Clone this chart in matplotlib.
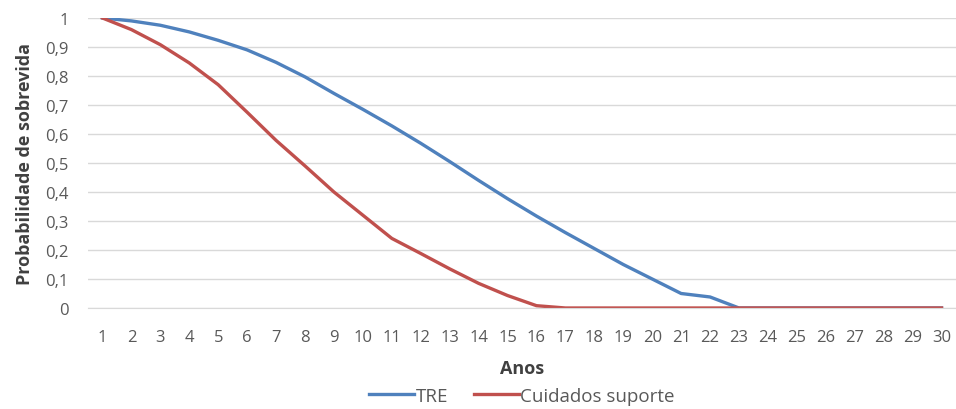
import matplotlib.pyplot as plt

# Survival probability by year
anos = list(range(1, 31))
tre = [1.0, 0.99, 0.975, 0.952, 0.923, 0.89, 0.847, 0.797, 0.74, 0.685,
       0.628, 0.568, 0.505, 0.44, 0.377, 0.317, 0.26, 0.205, 0.15, 0.10,
       0.05, 0.038, 0.0, 0.0, 0.0, 0.0, 0.0, 0.0, 0.0, 0.0]
cuidados = [1.0, 0.96, 0.908, 0.845, 0.77, 0.675, 0.578, 0.49, 0.40, 0.32,
            0.24, 0.188, 0.135, 0.085, 0.043, 0.008, 0.0, 0.0, 0.0, 0.0,
            0.0, 0.0, 0.0, 0.0, 0.0, 0.0, 0.0, 0.0, 0.0, 0.0]
yticks = [0, 0.1, 0.2, 0.3, 0.4, 0.5, 0.6, 0.7, 0.8, 0.9, 1]
ytick_labels = ['0', '0,1', '0,2', '0,3', '0,4', '0,5', '0,6', '0,7', '0,8', '0,9', '1']

plt.rcParams['font.family'] = ['Open Sans', 'DejaVu Sans']

fig = plt.figure(figsize=(9.56, 4.1), dpi=100)
ax = fig.add_axes([88 / 956, 1 - 309 / 410, 868 / 956, 290 / 410])

ax.plot(anos, tre, color='#4F81BD', linewidth=2.4, label='TRE')
ax.plot(anos, cuidados, color='#C0504D', linewidth=2.4, label='Cuidados suporte')

ax.set_xlim(0.5, 30.5)
ax.set_ylim(0, 1)
ax.set_xticks(anos)
ax.set_yticks(yticks)
ax.set_yticklabels(ytick_labels)
ax.tick_params(axis='both', length=0, labelsize=12, colors='#595959')
ax.tick_params(axis='x', pad=15)
ax.tick_params(axis='y', pad=14)

ax.grid(axis='y', color='#D9D9D9', linewidth=1)
ax.set_axisbelow(True)
for side in ['top', 'right', 'left']:
    ax.spines[side].set_visible(False)
ax.spines['bottom'].set_color('#D9D9D9')

ax.set_xlabel('Anos', fontsize=13, fontweight='bold', color='#404040', labelpad=10)
ax.set_ylabel('Probabilidade de sobrevida', fontsize=13, fontweight='bold',
              color='#404040', labelpad=8)

# legend centred under the plot area
ax.legend(loc='upper center', bbox_to_anchor=(0.5, -0.245), ncol=2, frameon=False,
          fontsize=13.5, labelcolor='#595959', handlelength=2.4, handletextpad=0.05,
          columnspacing=1.4, borderaxespad=0)

fig.savefig('out.png', dpi=100)
